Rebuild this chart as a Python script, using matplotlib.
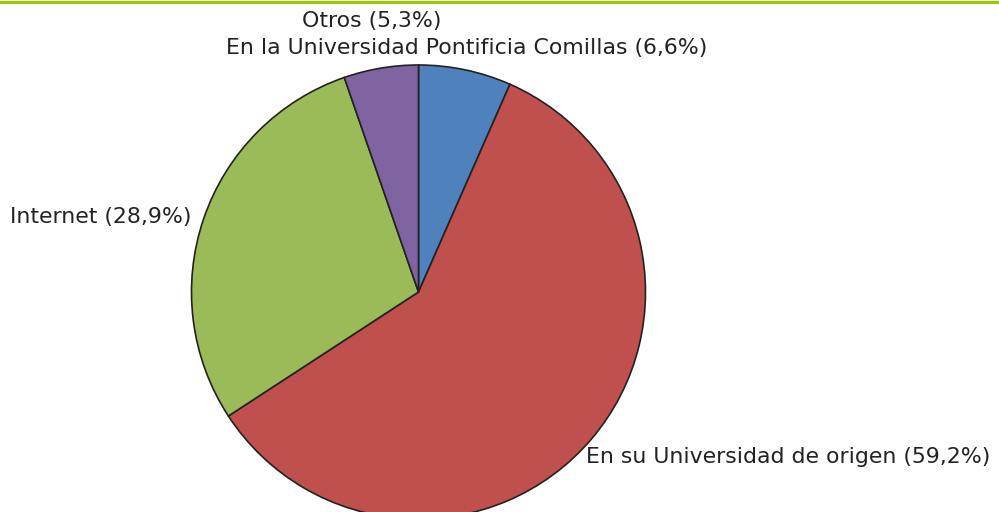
import matplotlib
matplotlib.use("Agg")
import matplotlib.pyplot as plt

categories = ["En la Universidad Pontificia Comillas", "En su Universidad de origen", "Internet", "Otros"]
values = [6.6, 59.2, 28.9, 5.3]
colors = ["#4F81BD", "#C0504D", "#9BBB59", "#8064A2"]

def fmt(v):
    return f"{v:.1f}".replace(".", ",") + "%"

labels = [f"{c} ({fmt(v)})" for c, v in zip(categories, values)]

W, H = 999, 512
fig = plt.figure(figsize=(W / 100, H / 100), dpi=100)
ax = fig.add_axes([0, 0, 1, 1])
ax.pie(values, colors=colors, startangle=90, counterclock=False,
       center=(418.5, H - 292), radius=227,
       wedgeprops=dict(edgecolor="#222222", linewidth=1.2), frame=True)
ax.set_xlim(0, W)
ax.set_ylim(0, H)
ax.set_aspect("auto")
ax.axis("off")

fs = 15.8
ff = "DejaVu Sans"
tc = "#222222"
ax.text(372, H - 21, labels[3], ha="center", va="center", fontsize=fs, family=ff, color=tc)
ax.text(467, H - 48, labels[0], ha="center", va="center", fontsize=fs, family=ff, color=tc)
ax.text(10, H - 217, labels[2], ha="left", va="center", fontsize=fs, family=ff, color=tc)
ax.text(990, H - 457, labels[1], ha="right", va="center", fontsize=fs, family=ff, color=tc)

fig.add_artist(plt.Line2D([0, 1], [1 - 1.5 / H, 1 - 1.5 / H], color="#99CC00", linewidth=2.2, transform=fig.transFigure))

fig.savefig("out.png", dpi=100)
